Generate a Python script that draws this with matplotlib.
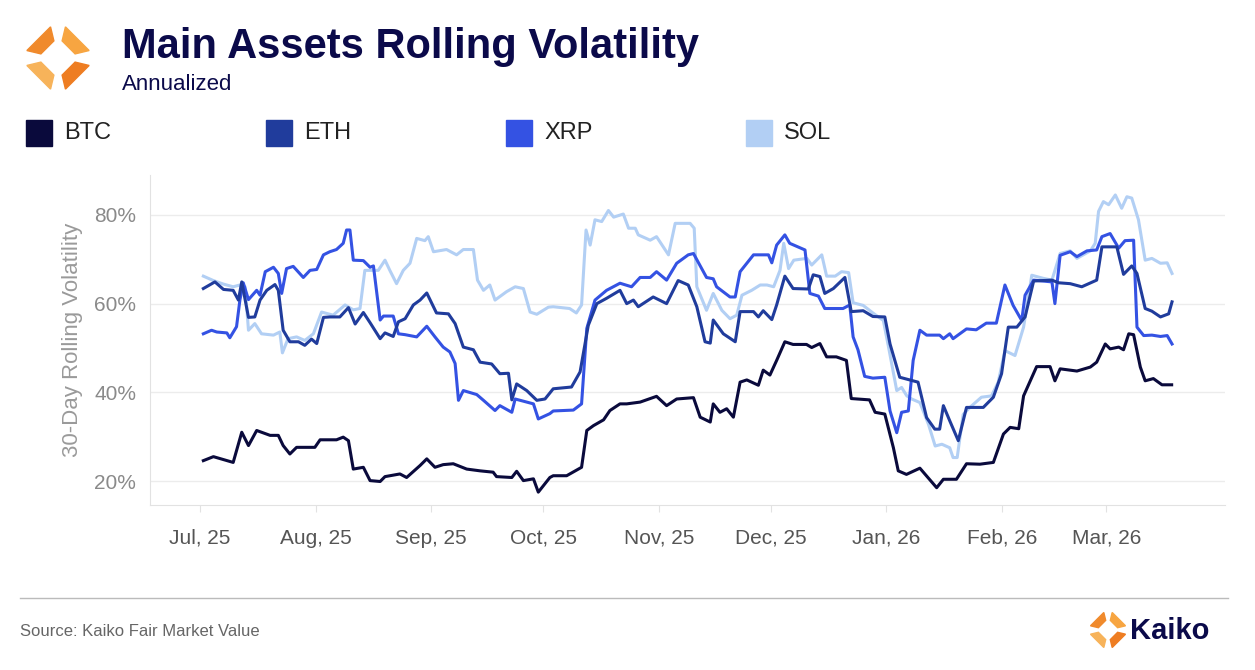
import numpy as np
import pandas as pd
import matplotlib
matplotlib.use("Agg")
import matplotlib.pyplot as plt
import matplotlib.dates as mdates
from matplotlib.patches import Polygon, Rectangle

plt.rcParams['font.family'] = ['Liberation Sans', 'DejaVu Sans']

# (days since 2025-07-01, annualized vol %)
btc = [(0.9,24.6),(3.6,25.5),(8.9,24.2),(11.2,31.0),(13.0,28.0),(15.2,31.4),(18.8,30.3),(21.0,30.3),(22.3,28.0),
       (24.1,26.1),(25.9,27.6),(30.8,27.6),(32.2,29.3),(36.6,29.3),(38.4,29.9),(39.8,29.1),(41.1,22.7),(43.8,23.1),
       (45.6,20.1),(48.3,19.9),(49.6,21.0),(53.6,21.6),(55.4,20.8),(59.0,23.5),(60.8,25.0),(63.0,23.1),(65.2,23.7),
       (67.9,23.9),(71.5,22.7),(75.1,22.3),(78.6,22.0),(79.5,21.0),(83.6,20.8),(84.9,22.2),(86.7,20.1),(89.4,20.5),
       (90.7,17.5),(93.8,20.8),(94.7,21.2),(98.3,21.2),(102.3,23.1),(103.7,31.4),(105.5,32.5),(108.2,33.8),
       (109.9,35.9),(112.6,37.4),(114.4,37.4),(118.0,37.8),(122.4,39.1),(125.1,37.0),(127.8,38.5),(132.3,38.8),
       (134.1,34.4),(136.8,33.3),(137.6,37.4),(139.4,35.5),(141.2,36.3),(143.0,34.4),(144.8,42.3),(146.6,42.8),
       (149.7,41.6),(151.0,45.0),(152.8,43.9),(154.6,47.2),(156.8,51.4),(159.0,50.8),(162.6,50.8),(164.0,50.1),
       (166.2,51.0),(168.0,48.0),(170.6,48.0),(173.3,47.2),(174.6,38.6),(179.5,38.3),(181.0,35.5),(183.6,35.1),
       (185.9,27.5),(187.2,22.3),(189.4,21.5),(193.0,22.9),(197.5,18.5),(199.3,20.4),(202.8,20.4),(205.5,23.9),
       (209.1,23.8),(212.7,24.2),(215.4,30.6),(217.2,32.1),(219.5,31.8),(220.8,39.2),(222.6,42.6),(224.3,45.8),
       (227.9,45.8),(229.2,42.6),(230.6,45.3),(235.1,44.8),(238.7,45.7),(240.4,46.8),(242.7,50.9),(244.0,49.8),
       (246.3,50.2),(247.6,49.6),(249.0,53.2),(250.3,53.0),(252.1,45.7),(253.4,42.6),(255.6,43.1),(257.9,41.7),
       (260.5,41.7)]

eth = [(0.9,63.4),(4.0,64.9),(6.3,63.2),(8.9,63.0),(10.3,60.8),(11.2,64.9),(13.0,56.9),(14.7,57.0),(16.1,60.8),
       (17.9,63.0),(20.1,64.3),(21.0,63.0),(22.3,54.0),(24.1,51.4),(26.4,51.4),(28.1,50.6),(29.9,52.0),(31.3,51.0),
       (33.1,56.9),(34.8,57.0),(37.5,57.0),(39.8,59.1),(41.6,55.4),(43.8,58.0),(45.6,55.7),(48.3,52.1),(49.6,53.4),
       (51.8,52.6),(53.2,55.9),(55.0,56.6),(57.2,59.7),(59.0,60.8),(60.8,62.4),(63.4,57.9),(66.6,57.7),(68.4,55.5),
       (70.6,50.2),(73.3,49.6),(75.1,46.8),(78.2,46.4),(80.4,44.2),(82.7,44.3),(83.6,38.3),(84.9,41.9),(87.6,40.4),
       (90.3,38.2),(92.5,38.5),(94.7,40.8),(99.6,41.2),(101.9,44.6),(104.1,55.1),(106.4,60.0),(109.0,61.2),
       (112.6,63.0),(114.4,60.0),(116.2,60.8),(117.5,59.3),(121.5,61.5),(125.1,60.0),(128.2,65.2),(130.9,64.2),
       (133.2,59.3),(135.4,51.4),(136.8,51.1),(137.6,56.3),(140.3,53.2),(143.5,51.4),(144.8,58.2),(148.4,58.2),
       (149.7,57.0),(151.0,58.4),(153.3,56.4),(154.6,59.7),(156.8,66.2),(159.0,63.4),(163.1,63.3),(164.4,66.5),
       (166.2,66.1),(167.5,62.3),(169.8,63.4),(172.9,65.9),(174.6,58.2),(177.8,58.4),(180.4,57.1),(183.6,57.0),
       (185.0,50.9),(187.6,43.4),(192.5,42.3),(194.8,34.3),(197.0,31.7),(198.3,31.7),(199.3,37.0),(201.0,33.6),
       (203.3,29.1),(205.5,36.6),(210.0,36.6),(212.7,38.9),(214.9,44.2),(216.7,54.7),(219.0,54.7),(221.2,57.0),
       (223.5,65.1),(228.4,65.3),(230.2,64.7),(233.3,64.5),(236.4,63.8),(240.4,65.3),(241.8,72.8),(245.8,72.8),
       (247.6,66.6),(249.8,68.5),(251.2,66.8),(253.4,58.9),(255.2,58.3),(257.5,57.0),(259.7,57.7),(260.6,60.4)]

xrp = [(0.9,53.2),(3.1,54.0),(4.5,53.6),(7.2,53.4),(8.0,52.3),(9.8,54.8),(10.7,60.8),(11.6,64.7),(13.0,60.9),
       (15.2,63.0),(16.1,61.9),(17.5,67.2),(19.7,68.2),(21.0,66.8),(21.9,62.3),(23.2,67.9),(25.0,68.4),(27.7,65.9),
       (29.5,67.5),(31.3,67.7),(33.1,71.0),(34.8,71.7),(36.6,72.2),(38.4,73.6),(39.3,76.6),(40.2,76.6),(41.1,69.8),
       (43.8,69.7),(45.6,68.2),(46.5,68.5),(48.3,56.3),(49.2,57.2),(51.8,57.2),(53.2,53.2),(55.0,53.0),(58.1,52.5),
       (60.8,54.9),(63.0,52.5),(65.2,50.2),(67.0,49.1),(68.4,46.5),(69.3,38.2),(70.6,40.4),(74.2,39.5),(76.0,38.2),
       (79.1,35.9),(80.4,37.0),(83.6,35.5),(84.5,38.5),(89.4,37.4),(90.7,34.0),(93.8,35.2),(94.7,35.8),(100.1,36.0),
       (102.3,37.4),(103.7,54.4),(105.9,60.8),(109.0,63.0),(112.6,64.6),(115.7,63.8),(118.0,65.9),(120.7,65.9),
       (122.4,67.2),(125.1,65.3),(127.8,69.1),(130.9,71.0),(132.3,71.3),(134.5,67.9),(135.8,65.9),(137.6,65.6),
       (138.5,63.8),(142.1,61.5),(143.5,61.5),(144.8,67.2),(148.4,71.0),(152.4,71.0),(153.3,69.2),(154.6,73.2),
       (156.8,75.5),(158.1,73.6),(162.2,72.1),(163.5,62.3),(165.8,61.7),(167.5,58.9),(172.4,58.9),(174.2,59.7),
       (175.1,52.5),(176.4,49.6),(178.2,43.6),(180.4,43.2),(183.6,43.4),(185.0,35.8),(186.8,30.9),(188.1,35.5),
       (189.9,35.8),(191.2,47.2),(193.0,54.0),(194.8,52.9),(198.3,52.9),(199.3,52.1),(201.0,53.2),(201.9,52.1),
       (205.5,54.3),(208.1,54.1),(210.8,55.6),(213.5,55.6),(215.8,64.2),(218.0,59.6),(220.3,56.2),(221.2,61.9),
       (223.5,65.3),(228.4,64.9),(229.2,60.0),(230.6,70.9),(233.3,71.7),(235.1,70.6),(237.8,71.9),(240.4,72.1),
       (241.8,75.1),(244.0,75.8),(246.3,72.5),(248.0,74.2),(250.3,74.3),(251.2,54.7),(253.0,52.8),(255.2,52.9),
       (257.5,52.6),(259.3,52.8),(260.6,50.9)]

sol = [(0.9,66.2),(3.6,65.2),(6.3,64.4),(8.9,63.8),(10.7,64.2),(12.1,63.8),(13.0,54.0),(14.7,55.5),(16.5,53.2),
       (19.7,52.9),(21.4,53.6),(22.1,48.9),(23.6,52.1),(25.9,52.5),(28.1,51.7),(30.4,53.2),(32.6,58.1),(35.7,57.4),
       (38.9,59.7),(41.1,58.6),(42.9,58.9),(44.2,67.5),(47.8,67.5),(49.6,69.8),(50.9,67.5),(52.7,64.5),(54.5,67.5),
       (56.3,69.1),(58.1,74.7),(60.3,74.2),(61.2,75.1),(62.6,71.7),(66.1,72.2),(68.8,71.0),(70.6,72.2),(73.3,72.2),
       (74.4,65.3),(76.0,63.0),(77.7,64.2),(79.1,60.8),(82.2,62.7),(84.5,63.8),(86.7,63.4),(88.5,58.1),(90.3,57.6),
       (93.4,59.2),(94.7,59.3),(99.1,58.9),(100.9,57.9),(102.3,59.7),(103.5,76.6),(104.6,73.2),(105.9,78.9),
       (107.7,78.5),(109.5,81.0),(110.9,79.5),(113.5,80.2),(114.9,77.0),(116.7,77.0),(117.5,75.5),(120.7,74.3),
       (122.4,75.1),(125.6,71.0),(127.4,78.1),(131.4,78.1),(132.5,77.0),(133.2,63.8),(135.8,58.5),(137.6,62.3),
       (139.9,58.5),(142.1,56.6),(143.9,57.4),(145.3,61.9),(147.9,63.0),(150.2,64.2),(152.0,64.2),(153.8,63.8),
       (155.5,67.5),(156.5,73.6),(157.8,67.9),(159.2,69.8),(162.7,70.2),(164.0,68.7),(166.7,71.0),(168.0,66.2),
       (170.3,66.2),(172.0,67.2),(173.9,67.0),(175.1,60.2),(177.8,59.6),(180.4,57.9),(183.2,56.2),(184.6,50.2),
       (186.8,40.4),(188.1,41.1),(189.5,39.2),(190.8,38.5),(193.0,37.7),(195.3,32.8),(197.1,27.9),(198.9,28.3),
       (201.0,27.5),(201.9,25.3),(203.0,25.3),(204.6,35.0),(206.4,36.6),(209.5,38.9),(212.2,39.2),(214.0,42.3),
       (215.8,49.4),(218.5,48.3),(220.8,54.7),(223.0,66.4),(226.1,65.7),(228.4,65.3),(230.6,71.3),(233.3,71.9),
       (235.1,70.2),(238.7,71.9),(240.0,73.6),(240.9,80.8),(242.2,83.0),(243.6,82.3),(245.4,84.5),(247.1,81.5),
       (248.5,84.1),(249.8,83.8),(251.6,78.9),(253.4,69.8),(255.2,70.2),(257.5,69.1),(259.3,69.2),(260.6,66.8)]

series = {'BTC': (btc, '#0a0a3c'), 'ETH': (eth, '#203c9c'),
          'XRP': (xrp, '#3452e3'), 'SOL': (sol, '#b2cff4')}
start = pd.Timestamp('2025-07-01')

fig = plt.figure(figsize=(12.55, 6.7), dpi=100)
ax = fig.add_axes([150 / 1255, 1 - 505 / 670, 1075 / 1255, 330 / 670])

for name in ['SOL', 'XRP', 'ETH', 'BTC']:
    pts, col = series[name]
    d = np.array(pts)
    dates = [start + pd.Timedelta(days=float(x)) for x in d[:, 0]]
    ax.plot(dates, d[:, 1], color=col, lw=2.2, zorder=3 if name == 'BTC' else 2)

ax.set_xlim(start - pd.Timedelta(days=13.4), start + pd.Timedelta(days=274.8))
ax.set_ylim(14.6, 89)
ax.set_yticks([20, 40, 60, 80])
ax.set_yticklabels(['20%', '40%', '60%', '80%'])
ax.set_xticks(pd.date_range('2025-07-01', '2026-03-01', freq='MS'))
ax.xaxis.set_major_formatter(mdates.DateFormatter('%b, %y'))
ax.grid(axis='y', color='#ececec', lw=1)
ax.set_axisbelow(True)
for s in ['top', 'right']:
    ax.spines[s].set_visible(False)
for s in ['left', 'bottom']:
    ax.spines[s].set_color('#e2e2e2')
ax.tick_params(axis='y', length=0, labelsize=15, labelcolor='#8a8a8a', pad=10)
ax.tick_params(axis='x', length=5, color='#e2e2e2', labelsize=15, labelcolor='#555555', pad=12)
ax.set_ylabel('30-Day Rolling Volatility', fontsize=16, color='#9a9a9a', labelpad=8)

# header
fig.text(122 / 1255, 1 - 47 / 670, 'Main Assets Rolling Volatility', fontsize=30, fontweight='bold',
         color='#0b0a4a', va='center')
fig.text(122 / 1255, 1 - 84 / 670, 'Annualized', fontsize=16, color='#0b0a4a', va='center')

# simple orange logo marks
def logo(cx, cy, r, aspect):
    for k, c in enumerate(['#f7a541', '#f08a2c', '#f7b35a', '#ee7d22']):
        a0 = np.pi / 4 + k * np.pi / 2
        pts = []
        for a in np.linspace(a0 - 0.55, a0 + 0.55, 2):
            pts.append((cx + r * np.cos(a) / aspect, cy + r * np.sin(a)))
        for a in np.linspace(a0 + 0.55, a0 - 0.55, 2):
            pts.append((cx + 0.55 * r * np.cos(a) / aspect, cy + 0.55 * r * np.sin(a)))
        fig.patches.append(Polygon(pts, closed=True, transform=fig.transFigure, color=c))

logo(58 / 1255, 1 - 58 / 670, 32 / 670, 1255 / 670)
logo(1108 / 1255, 1 - 630 / 670, 18 / 670, 1255 / 670)
fig.text(1130 / 1255, 1 - 631 / 670, 'Kaiko', fontsize=21, fontweight='bold', color='#0b0a4a', va='center')

# legend
for i, name in enumerate(['BTC', 'ETH', 'XRP', 'SOL']):
    x0 = (26 + i * 240) / 1255
    fig.patches.append(Rectangle((x0, 1 - 146 / 670), 26 / 1255, 26 / 670,
                                 transform=fig.transFigure, color=series[name][1]))
    fig.text(x0 + 38 / 1255, 1 - 133 / 670, name, fontsize=17, color='#222222', va='center')

# footer
fig.add_artist(plt.Line2D([20 / 1255, 1228 / 1255], [1 - 598 / 670] * 2, transform=fig.transFigure,
                          color='#bbbbbb', lw=1))
fig.text(20 / 1255, 1 - 632 / 670, 'Source: Kaiko Fair Market Value', fontsize=12, color='#666666', va='center')

fig.savefig('out.png', dpi=100)
